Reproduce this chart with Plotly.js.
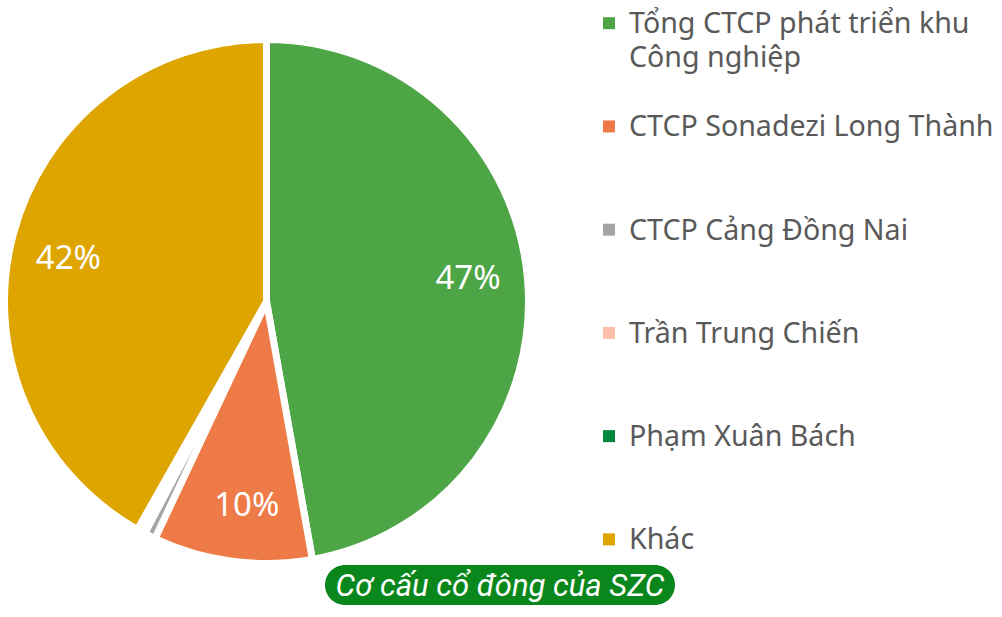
<!DOCTYPE html>
<html><head><meta charset="utf-8">
<script src="https://cdn.plot.ly/plotly-3.0.1.min.js"></script>
<style>html,body{margin:0;padding:0;background:#fff}#chart{width:1002px;height:617px}</style>
</head><body><div id="chart"></div>
<script>
// ---- data ----
const labels = ['Tổng CTCP phát triển khu<br>Công nghiệp', 'CTCP Sonadezi Long Thành', 'CTCP Cảng Đồng Nai', 'Trần Trung Chiến', 'Phạm Xuân Bách', 'Khác'];
const values = [47.2, 9.8, 0.7, 0.3, 0.2, 41.8];
const sliceColors = ['#4DA545', '#EE7B47', '#A5A5A5', '#FFBFA8', '#00873D', '#DEA500'];
const showPercent = [true, true, false, false, false, true];
const chartTitle = 'Cơ cấu cổ đông của SZC';

// ---- layout helpers ----
const W = 1002, H = 617;
const px = x => x / W;
const py = y => 1 - y / H;
const cx = 266.5, cy = 301.5, R = 262;
const domain = { x: [px(cx - R), px(cx + R)], y: [py(cy + R), py(cy - R)] };

// legend entries: visible text size 28.6px, line pitch from legend font, padded to 3 lines
const legendLabels = labels.map((l, i) => {
  const lines = l.split('<br>').map(t => '<span style="font-size:28.6px">' + t + '</span>');
  if (i < labels.length - 1) { while (lines.length < 3) lines.push(' '); }
  return lines.join('<br>');
});

// rounded pill behind the title
function pillPath(l, t, r, b) {
  const rad = (b - t) / 2, k = 0.5523 * rad, m = (t + b) / 2;
  const P = (x, y) => px(x).toFixed(5) + ',' + py(y).toFixed(5);
  return 'M' + P(l + rad, t) + ' L' + P(r - rad, t) +
    ' C' + P(r - rad + k, t) + ' ' + P(r, m - k) + ' ' + P(r, m) +
    ' C' + P(r, m + k) + ' ' + P(r - rad + k, b) + ' ' + P(r - rad, b) +
    ' L' + P(l + rad, b) +
    ' C' + P(l + rad - k, b) + ' ' + P(l, m + k) + ' ' + P(l, m) +
    ' C' + P(l, m - k) + ' ' + P(l + rad - k, t) + ' ' + P(l + rad, t) + ' Z';
}

const common = { type: 'pie', labels: legendLabels, values: values, sort: false,
  direction: 'clockwise', rotation: 0, hoverinfo: 'none', domain: domain };

// 1) base pie: supplies the legend (plain colour squares)
const legendPie = Object.assign({}, common, {
  marker: { colors: sliceColors, line: { width: 0 } },
  textinfo: 'none', showlegend: true
});
// 2) visible pie with white separators
const mainPie = Object.assign({}, common, {
  marker: { colors: sliceColors, line: { color: '#ffffff', width: 7 } },
  textinfo: 'none', showlegend: false
});
// 3) transparent ring carrying the percentage labels
const labelPie = Object.assign({}, common, {
  hole: 0.55,
  rotation: -2,
  marker: { colors: sliceColors.map(() => 'rgba(0,0,0,0)'), line: { width: 0 } },
  texttemplate: showPercent.map(s => s ? '%{percent:.0%}' : ''),
  textposition: showPercent.map(s => s ? 'inside' : 'none'),
  insidetextorientation: 'horizontal',
  insidetextfont: { family: 'Noto Sans', size: 33, color: '#ffffff' },
  showlegend: false
});

const layout = {
  width: W, height: H,
  margin: { l: 0, r: 0, t: 0, b: 0 },
  paper_bgcolor: '#ffffff',
  showlegend: true,
  legend: {
    x: px(589), xanchor: 'left', xref: 'paper',
    y: 1, yanchor: 'top', yref: 'paper',
    valign: 'top',
    font: { family: 'Noto Sans', size: 25.7, color: '#595959' },
    bgcolor: 'rgba(0,0,0,0)', borderwidth: 0
  },
  title: {
    text: chartTitle,
    x: 0.499, xanchor: 'center', xref: 'container',
    y: 1 - 585 / H, yanchor: 'middle', yref: 'container',
    font: { family: 'Roboto', size: 31, style: 'italic', color: '#ffffff' }
  },
  shapes: [{
    type: 'path', xref: 'paper', yref: 'paper', layer: 'below',
    path: pillPath(325, 565, 675, 605),
    fillcolor: '#0A871C', line: { width: 0 }
  }]
};

Plotly.newPlot('chart', [legendPie, mainPie, labelPie], layout, { displayModeBar: false, staticPlot: true });
</script>
</body></html>
